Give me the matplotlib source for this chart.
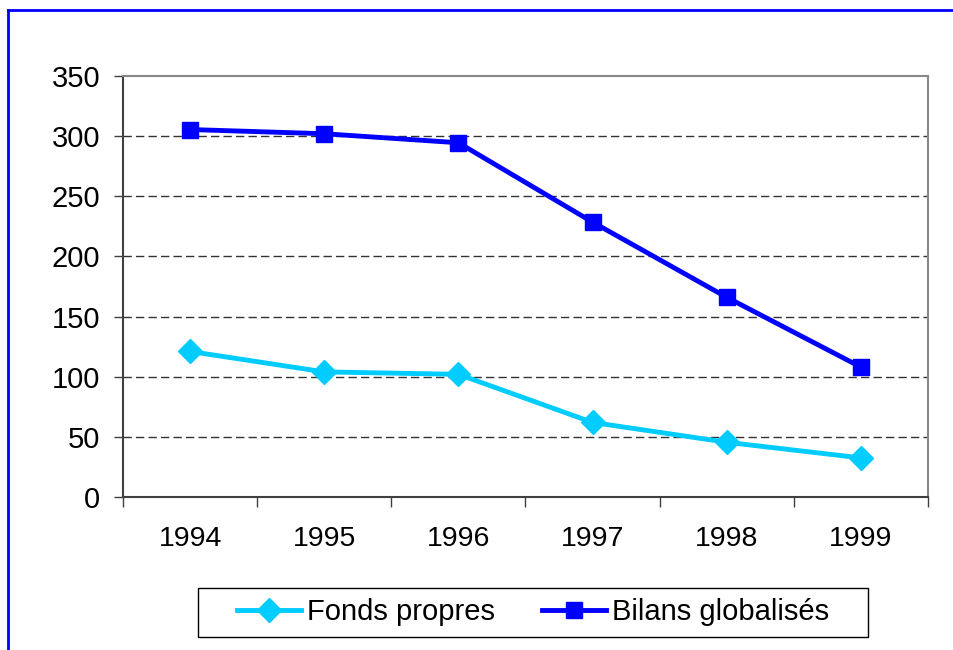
import matplotlib
matplotlib.use("Agg")
import matplotlib.pyplot as plt
from matplotlib.lines import Line2D
from matplotlib.patches import Rectangle

plt.rcParams['font.family'] = ['Liberation Sans', 'DejaVu Sans']

years = ["1994", "1995", "1996", "1997", "1998", "1999"]
fonds_propres = [121, 104, 102, 62, 45.5, 32.5]
bilans_globalises = [305.5, 302, 294.5, 228.5, 166, 108]
y_ticks = [0, 50, 100, 150, 200, 250, 300, 350]

W, H = 954, 650
fig = plt.figure(figsize=(W / 100, H / 100), dpi=100)
ax = fig.add_axes([123 / W, 1 - 497 / H, (928 - 123) / W, (497 - 76) / H])

x = list(range(len(years)))
ax.plot(x, fonds_propres, color='#00CCFF', lw=3.5, marker='D', ms=12.5,
        label='Fonds propres', zorder=3)
ax.plot(x, bilans_globalises, color='#0000FF', lw=3.5, marker='s', ms=11,
        label='Bilans globalisés', zorder=4)

ax.set_xlim(-0.5, len(years) - 0.5)
ax.set_ylim(0, 350)
ax.set_yticks(y_ticks)
ax.set_yticklabels([str(v) for v in y_ticks], fontsize=21)
ax.set_xticks(x)
ax.set_xticklabels(years, fontsize=20.5)
ax.tick_params(axis='x', length=0, pad=21)
ax.set_xticks([i - 0.5 for i in range(len(years) + 1)], minor=True)
ax.tick_params(axis='x', which='minor', length=7, width=1, color='#404040')
ax.tick_params(axis='y', length=6.5, width=1, color='#404040', pad=10)

for v in y_ticks[1:-1]:
    ax.axhline(v, color='#333333', lw=1, ls=(0, (6, 3)), zorder=1)

ax.spines['left'].set_color('#404040')
ax.spines['bottom'].set_color('#404040')
ax.spines['top'].set_color('#888888')
ax.spines['right'].set_color('#888888')
for s in ax.spines.values():
    s.set_linewidth(1.5)

# Legend box drawn separately so the padding can be set per side
bx0, bx1, by0, by1 = 198, 868, 588, 637
fig.add_artist(Rectangle((bx0 / W, 1 - by1 / H), (bx1 - bx0) / W, (by1 - by0) / H,
                         transform=fig.transFigure, facecolor='white',
                         edgecolor='black', lw=1.0, zorder=5))
leg = fig.legend(loc='center', bbox_to_anchor=((bx0 + bx1) / 2 / W, 1 - (by0 + by1) / 2 / H),
                 ncol=2, fontsize=21, frameon=False,
                 handlelength=2.2, handletextpad=0.2,
                 columnspacing=1.6, borderpad=0.2)
leg.set_zorder(6)

# Outer blue frame around the chart
fig.add_artist(Line2D([8 / W, 8 / W], [0, 1 - 10 / H], color='#0000FF',
                      lw=2, transform=fig.transFigure))
fig.add_artist(Line2D([8 / W, 1], [1 - 10 / H, 1 - 10 / H], color='#0000FF',
                      lw=2, transform=fig.transFigure))

fig.savefig('out.png', dpi=100)
